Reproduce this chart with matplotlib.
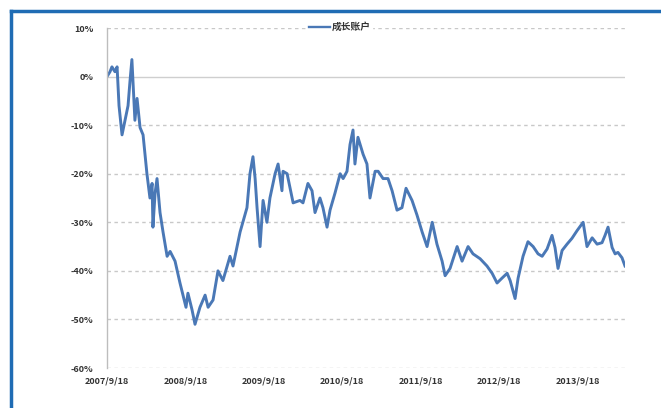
import matplotlib
matplotlib.use("Agg")
import matplotlib.pyplot as plt
import numpy as np
import pandas as pd
from matplotlib.lines import Line2D

plt.rcParams['font.family'] = ['Noto Sans CJK SC', 'DejaVu Sans']

start = pd.Timestamp('2007-09-18')

# elapsed calendar days since 2007-09-18
days = [0, 14, 23, 37, 47, 56, 70, 84, 98, 107, 116, 130, 140, 154, 168, 177, 186,
        200, 210, 214, 224, 233, 247, 261, 280, 294, 317, 340, 368, 377, 396, 410,
        433, 457, 471, 494, 517, 540, 573, 587, 620, 652, 666, 680, 690, 699, 713,
        727, 745, 759, 783, 797, 815, 820, 839, 853, 867, 899, 913, 936, 955, 969,
        992, 1006, 1025, 1039, 1062, 1086, 1100, 1118, 1132, 1146, 1155, 1169, 1193,
        1211, 1225, 1249, 1263, 1286, 1309, 1328, 1351, 1374, 1393, 1421, 1444, 1468,
        1491, 1515, 1537, 1561, 1575, 1598, 1631, 1654, 1682, 1705, 1738, 1770, 1794,
        1817, 1840, 1864, 1878, 1901, 1915, 1938, 1961, 1985, 2008, 2027, 2050, 2073,
        2087, 2101, 2120, 2143, 2166, 2190, 2218, 2236, 2260, 2283, 2306, 2320, 2334,
        2353, 2367, 2380, 2399, 2413]

# cumulative return of the account, percent
returns = [0, 1, 2, 1, 2, -6, -12, -9, -6, -1, 3.5, -9, -4.5, -10.5, -12, -16, -20,
           -25, -22, -31, -24, -21, -28, -32, -37, -36, -38, -42.5, -47.5, -44.6, -48, -51,
           -47.5, -45, -47.5, -46, -40, -42, -37, -39, -32, -27, -20, -16.5, -21, -27, -35,
           -25.5, -30, -25, -20, -18, -23.5, -19.5, -20, -23, -26, -25.5, -26, -22, -23.5, -28,
           -25, -27, -31, -27.5, -24, -20, -21, -19.5, -14, -11, -18, -12.5, -16,
           -18, -25, -19.5, -19.5, -21, -21, -23.5, -27.5, -27, -23, -25.5, -28.5, -32,
           -35, -30, -34.5, -38, -41, -39.5, -35, -38, -35, -36.5, -37.5, -39, -40.5,
           -42.5, -41.5, -40.5, -42, -45.7, -41.5, -37, -34, -35, -36.5, -37, -35.5, -32.7,
           -35.2, -39.5, -35.8, -34.5, -33.3, -31.7, -30, -35, -33.2, -34.5, -34.2, -32.7, -31,
           -35.2, -36.5, -36.2, -37.3, -39]

tick_labels = ['2007/9/18', '2008/9/18', '2009/9/18', '2010/9/18',
               '2011/9/18', '2012/9/18', '2013/9/18']
y_ticks = [10, 0, -10, -20, -30, -40, -50, -60]
series_name = '成长账户'

dates = [start + pd.Timedelta(days=d) for d in days]
tick_dates = [pd.Timestamp(s.replace('/', '-')) for s in tick_labels]

W, H = 661, 408
fig = plt.figure(figsize=(W / 100, H / 100), dpi=100)
fig.patch.set_facecolor('white')

ax = fig.add_axes([107 / W, 1 - 368 / H, (625 - 107) / W, (368 - 28) / H])
ax.plot(dates, returns, color='#4a78b6', lw=2.1, solid_joinstyle='round')

ax.set_xlim(start, start + pd.Timedelta(days=2413))
ax.set_ylim(-60, 10)
ax.set_yticks(y_ticks)
ax.set_yticklabels([f'{v}%' for v in y_ticks])
ax.set_xticks(tick_dates)
ax.set_xticklabels(tick_labels)

for v in y_ticks:
    if v == 0:
        ax.axhline(v, color='#cfcfcf', lw=1.0, zorder=0)
    else:
        ax.axhline(v, color='#c8c8c8', lw=1.0, ls=(0, (2.5, 2.5)), zorder=0)

for side in ['top', 'right', 'bottom']:
    ax.spines[side].set_visible(False)
ax.spines['left'].set_color('#bdbdbd')
ax.spines['left'].set_linewidth(1.0)
ax.tick_params(axis='both', length=0, labelsize=6.5, colors='#333333')
ax.tick_params(axis='y', pad=10)
ax.tick_params(axis='x', pad=6)
for lbl in ax.get_xticklabels() + ax.get_yticklabels():
    lbl.set_fontweight('bold')

handle = Line2D([], [], color='#4a78b6', lw=1.7)
leg = fig.legend([handle], [series_name], loc='center', bbox_to_anchor=(340 / W, 1 - 27 / H),
                 frameon=True, fontsize=7, handlelength=2.2, handletextpad=0.2,
                 borderpad=0.1, facecolor='white', edgecolor='white', framealpha=1)
for t in leg.get_texts():
    t.set_fontweight('bold')
    t.set_color('#333333')

# blue outer frame (top and left edges)
fig.add_artist(Line2D([11 / W, 1.0], [1 - 11 / H, 1 - 11 / H], color='#1f6cb4', lw=2.5,
                      transform=fig.transFigure))
fig.add_artist(Line2D([11 / W, 11 / W], [1 - 11 / H, 0.0], color='#1f6cb4', lw=2.5,
                      transform=fig.transFigure))

fig.savefig('out.png', dpi=100, facecolor='white')
